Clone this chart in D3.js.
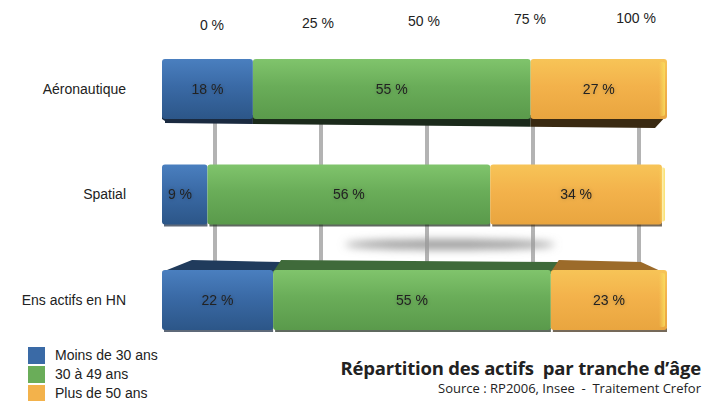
<!DOCTYPE html>
<html>
<head>
<meta charset="utf-8">
<script src="https://cdn.jsdelivr.net/npm/d3@7"></script>
<style>
  body { margin: 0; background: #fff; }
  text { font-family: "Liberation Sans", Arial, sans-serif; }
</style>
</head>
<body>
<script>
// Size of the whole picture
var width = 715;
var height = 401;

// data
var categories = ["Aéronautique", "Spatial", "Ens actifs en HN"];
var series = ["Moins de 30 ans", "30 à 49 ans", "Plus de 50 ans"];
var moins30 = [18, 9, 22];
var de30a49 = [55, 56, 55];
var plus50 = [27, 34, 23];
var ticks = [0, 25, 50, 75, 100];

var colors = ["#3a6aa6", "#6aad59", "#f3b24b"];
var lightColors = ["#4a7fbf", "#80c46c", "#f7c457"];
var darkColors = ["#2c5688", "#5a9a4b", "#e9a53f"];
var underColors = ["#1a2a40", "#1b2a1b", "#3a2a12"];
var topColors = ["#203b5c", "#3f6a3a", "#9c6b2a"];

var svg = d3.select("body")
    .append("svg")
    .attr("width", width)
    .attr("height", height);

var defs = svg.append("defs");

// vertical gradients for the bar faces
series.forEach(function(s, i) {
  var grad = defs.append("linearGradient")
      .attr("id", "grad" + i)
      .attr("x1", 0).attr("y1", 0).attr("x2", 0).attr("y2", 1);
  grad.append("stop").attr("offset", "0%").attr("stop-color", lightColors[i]);
  grad.append("stop").attr("offset", "45%").attr("stop-color", colors[i]);
  grad.append("stop").attr("offset", "100%").attr("stop-color", darkColors[i]);
});

// highlight at the right end of the bars
var hl = defs.append("linearGradient").attr("id", "hl")
    .attr("x1", 0).attr("y1", 0).attr("x2", 1).attr("y2", 0);
hl.append("stop").attr("offset", "0%").attr("stop-color", "#f9dd5e").attr("stop-opacity", 0);
hl.append("stop").attr("offset", "100%").attr("stop-color", "#f9dd5e").attr("stop-opacity", 0.9);

var blur = defs.append("filter").attr("id", "blur")
    .attr("x", "-20%").attr("y", "-200%").attr("width", "140%").attr("height", "500%");
blur.append("feGaussianBlur").attr("stdDeviation", 4);

var glow = defs.append("filter").attr("id", "glow")
    .attr("x", "-20%").attr("y", "-50%").attr("width", "140%").attr("height", "200%");
glow.append("feGaussianBlur").attr("in", "SourceAlpha").attr("stdDeviation", 2).attr("result", "b");
glow.append("feFlood").attr("flood-color", "#000").attr("flood-opacity", 0.25);
glow.append("feComposite").attr("in2", "b").attr("operator", "in").attr("result", "s");
var merge = glow.append("feMerge");
merge.append("feMergeNode").attr("in", "s");
merge.append("feMergeNode").attr("in", "SourceGraphic");

// stack the three series
var rows = categories.map(function(c, i) {
  return { cat: c, vals: [moins30[i], de30a49[i], plus50[i]] };
});

// front scale (bars) and back wall scale (grid + tick labels)
var x = d3.scaleLinear().domain([0, 100]).range([162, 667]);
var xBack = d3.scaleLinear().domain([0, 100]).range([215, 639]);
var yTick = d3.scaleLinear().domain([0, 100]).range([26, 19]);
var y = d3.scalePoint().domain(categories).range([89, 300]);
var barH = 60;

// back grid lines
svg.selectAll(".grid")
    .data(ticks)
    .enter().append("line")
    .attr("class", "grid")
    .attr("x1", function(d) { return xBack(d); })
    .attr("x2", function(d) { return xBack(d); })
    .attr("y1", 100)
    .attr("y2", 290)
    .attr("stroke", "#b3b3b3")
    .attr("stroke-width", 4);

// tick labels at top
svg.selectAll(".tick")
    .data(ticks)
    .enter().append("text")
    .attr("x", function(d) { return xBack(d) - 3; })
    .attr("y", function(d) { return yTick(d); })
    .attr("text-anchor", "middle")
    .attr("dominant-baseline", "middle")
    .style("font-size", "14px")
    .style("fill", "#222")
    .text(function(d) { return d + " %"; });

// shadow under the Spatial bar
svg.append("ellipse")
    .attr("cx", x(57))
    .attr("cy", y(categories[1]) + 50)
    .attr("rx", 105)
    .attr("ry", 5)
    .attr("fill", "#999")
    .attr("filter", "url(#blur)");

// category labels
svg.selectAll(".cat")
    .data(categories)
    .enter().append("text")
    .attr("class", "cat")
    .attr("x", 126)
    .attr("y", function(d) { return y(d) + 1; })
    .attr("text-anchor", "end")
    .attr("dominant-baseline", "middle")
    .style("font-size", "14px")
    .style("fill", "#222")
    .text(function(d) { return d; });

rows.forEach(function(r, ri) {
  var cy = y(r.cat);
  var top = cy - barH / 2;
  var segs = [];
  var acc = 0;
  r.vals.forEach(function(v, i) {
    segs.push({ x0: acc, x1: acc + v, v: v, i: i });
    acc += v;
  });
  var g = svg.append("g");

  // dark underside on the first bar, thin edge on the others
  if (ri == 0) {
    g.selectAll(".under")
        .data(segs)
        .enter().append("path")
        .attr("d", function(d) {
          var a = x(d.x0), b = x(d.x1);
          var yl = function(px) { return top + barH + 4 + 5 * (px - x(0)) / (x(100) - x(0)); };
          var aa = d.i == 0 ? a + 3 : a;
          var bb = d.i == 2 ? b - 12 : b;
          var s = "M" + a + "," + (top + barH - 4) + "L" + b + "," + (top + barH - 4) +
                  "L" + bb + "," + yl(bb) + "L" + aa + "," + yl(aa);
          if (d.i == 0) s += "L" + (a + 3) + "," + (top + barH + 2) + "L" + a + "," + (top + barH);
          return s + "Z";
        })
        .attr("fill", function(d) { return underColors[d.i]; });
  } else {
    g.selectAll(".edge")
        .data(segs)
        .enter().append("rect")
        .attr("x", function(d) { return x(d.x0) + 2; })
        .attr("y", top + barH - 2)
        .attr("width", function(d) { return x(d.x1) - x(d.x0) - 2; })
        .attr("height", 4)
        .attr("fill", function(d) { return underColors[d.i]; })
        .attr("opacity", 0.7);
  }

  // visible top face on the last bar
  if (ri == 2) {
    g.selectAll(".topf")
        .data(segs)
        .enter().append("path")
        .attr("d", function(d) {
          var a = x(d.x0), b = x(d.x1);
          var la = d.i == 0 ? a + 30 : a + 8;
          var rb = d.i == 2 ? b - 26 : b + 8;
          return "M" + a + "," + (top + 2) + "L" + la + "," + (top - 10) +
                 "L" + rb + "," + (top - 8) + "L" + b + "," + (top + 4) + "Z";
        })
        .attr("fill", function(d) { return topColors[d.i]; });
  }

  // front faces
  g.selectAll(".seg")
      .data(segs)
      .enter().append("rect")
      .attr("x", function(d) { return x(d.x0); })
      .attr("y", top)
      .attr("width", function(d) { return x(d.x1) - x(d.x0); })
      .attr("height", barH)
      .attr("rx", 3)
      .attr("fill", function(d) { return "url(#grad" + d.i + ")"; });

  // yellow highlight on the right end
  g.append("rect")
      .attr("x", x(100) - 8)
      .attr("y", top + 3)
      .attr("width", 6)
      .attr("height", barH - 6)
      .attr("rx", 2)
      .attr("fill", "url(#hl)");

  // value labels
  g.selectAll(".val")
      .data(segs)
      .enter().append("text")
      .attr("x", function(d) { return d.v < 12 ? x(d.x0) + 18 : (x(d.x0) + x(d.x1)) / 2; })
      .attr("y", cy + 1)
      .attr("text-anchor", "middle")
      .attr("dominant-baseline", "middle")
      .attr("filter", "url(#glow)")
      .style("font-size", "14px")
      .style("fill", "#222")
      .text(function(d) { return d.v + " %"; });
});

// legend
var legend = svg.selectAll(".leg")
    .data(series)
    .enter().append("g")
    .attr("transform", function(d, i) { return "translate(28," + (347 + i * 19) + ")"; });
legend.append("rect")
    .attr("width", 17)
    .attr("height", 17)
    .attr("fill", function(d, i) { return colors[i]; });
legend.append("text")
    .attr("x", 27)
    .attr("y", 9)
    .attr("dominant-baseline", "middle")
    .style("font-size", "14px")
    .style("fill", "#222")
    .text(function(d) { return d; });

// title + source
svg.append("text")
    .attr("x", 701)
    .attr("y", 375)
    .attr("text-anchor", "end")
    .style("font-family", "'Open Sans', sans-serif")
    .style("font-weight", "bold")
    .style("font-size", "18.5px")
    .style("letter-spacing", "-0.2px")
    .style("white-space", "pre")
    .style("fill", "#222")
    .text("Répartition des actifs  par tranche d’âge");

svg.append("text")
    .attr("x", 701)
    .attr("y", 393)
    .attr("text-anchor", "end")
    .style("font-family", "'Open Sans', sans-serif")
    .style("font-size", "13px")
    .style("white-space", "pre")
    .style("fill", "#222")
    .text("Source : RP2006, Insee  -  Traitement Crefor");
</script>
</body>
</html>
